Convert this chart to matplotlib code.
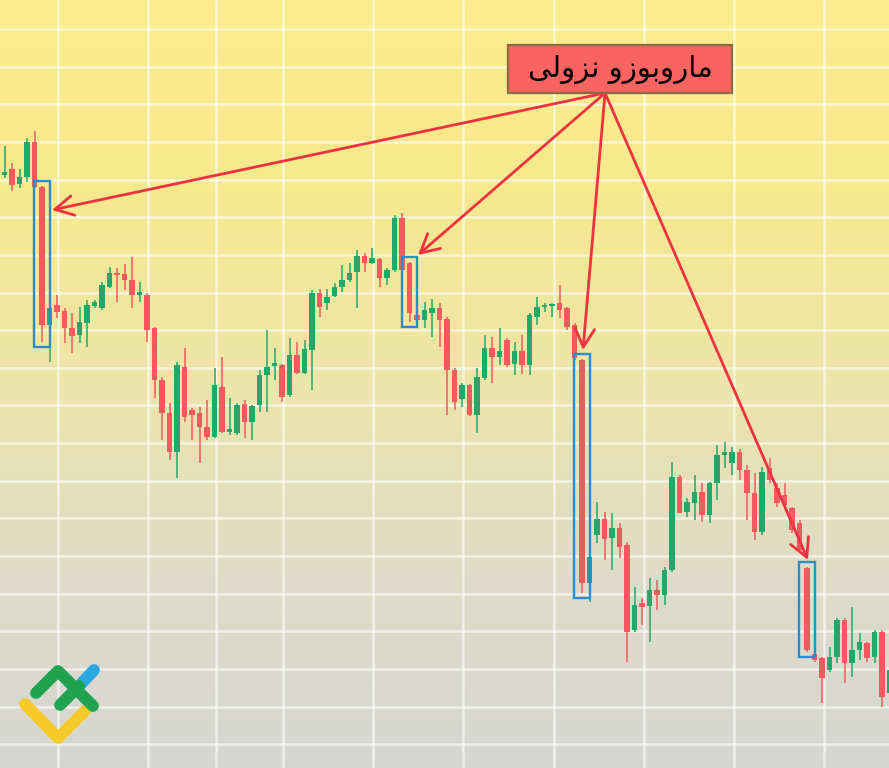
import numpy as np
import matplotlib.pyplot as plt
from matplotlib.patches import Rectangle

# candle OHLC (arbitrary price units, one candle per bar)
opens = [593, 599, 584, 591, 626, 581, 443, 463, 457, 440,
         433, 445, 462, 460, 481, 495, 494, 488, 473, 473,
         440, 388, 355, 316, 401, 358, 355, 341, 331, 381,
         336, 335, 364, 346, 363, 393, 402, 403, 373, 413,
         395, 418, 475, 465, 472, 481, 488, 496, 512, 505,
         509, 490, 498, 550, 505, 453, 448, 455, 460, 449,
         398, 369, 383, 353, 390, 420, 411, 428, 404, 417,
         403, 451, 461, 462, 465, 460, 443, 408, 185, 233,
         249, 230, 240, 223, 138, 165, 162, 178, 173, 198,
         291, 256, 265, 276, 253, 285, 313, 305, 316, 298,
         275, 236, 300, 280, 273, 260, 245, 200, 114, 110,
         98, 111, 148, 105, 118, 125, 111, 136, 75]
highs = [622, 605, 599, 630, 637, 582, 461, 473, 460, 455,
         461, 468, 468, 486, 501, 500, 504, 511, 486, 475,
         441, 391, 365, 406, 420, 360, 361, 368, 400, 411,
         370, 365, 368, 363, 398, 438, 420, 404, 430, 426,
         428, 478, 479, 479, 485, 503, 505, 518, 515, 520,
         510, 500, 553, 555, 506, 455, 466, 469, 465, 451,
         400, 385, 384, 400, 433, 431, 440, 430, 426, 433,
         455, 471, 465, 465, 483, 461, 445, 409, 225, 266,
         256, 255, 245, 226, 181, 170, 190, 188, 201, 306,
         293, 270, 293, 285, 286, 323, 326, 321, 319, 303,
         295, 301, 310, 285, 285, 261, 248, 201, 116, 111,
         121, 150, 150, 161, 135, 126, 138, 138, 100]
lows = [590, 577, 580, 586, 580, 426, 406, 450, 425, 415,
        425, 421, 460, 458, 480, 466, 478, 460, 466, 426,
        370, 328, 308, 290, 346, 328, 305, 328, 330, 335,
        333, 333, 330, 328, 356, 356, 388, 366, 371, 394,
        394, 378, 451, 458, 471, 476, 486, 460, 496, 504,
        481, 483, 496, 491, 446, 446, 440, 431, 421, 353,
        358, 361, 352, 335, 388, 385, 403, 401, 393, 394,
        393, 443, 456, 451, 450, 438, 408, 175, 166, 225,
        208, 198, 210, 106, 136, 143, 126, 158, 163, 196,
        255, 251, 248, 246, 245, 268, 300, 293, 288, 248,
        228, 233, 285, 261, 260, 235, 215, 116, 106, 65,
        96, 105, 85, 91, 108, 106, 105, 61, 70]
closes = [596, 583, 591, 626, 581, 443, 460, 456, 440, 432,
          446, 463, 466, 483, 495, 493, 488, 473, 476, 438,
          388, 355, 316, 403, 351, 353, 341, 331, 383, 336,
          339, 363, 346, 362, 393, 401, 405, 371, 413, 395,
          419, 475, 461, 471, 481, 488, 495, 512, 505, 510,
          490, 498, 550, 498, 455, 448, 458, 460, 448, 398,
          366, 383, 353, 391, 420, 411, 417, 403, 417, 403,
          453, 461, 463, 464, 458, 441, 410, 185, 211, 249,
          229, 240, 221, 136, 163, 161, 178, 173, 198, 291,
          255, 266, 276, 253, 285, 313, 316, 316, 298, 275,
          236, 296, 288, 265, 263, 238, 218, 118, 108, 90,
          111, 148, 105, 118, 126, 110, 136, 71, 98]

# bearish marubozu candles and where the arrows point (candle index, price)
marubozu_idx = [5, 54, 77, 107]
arrow_tips = [(6.33, 558), (55.13, 513), (77.13, 418), (107.13, 208)]
arrow_origin = (80.07, 675)
label = 'ماروبوزو نزولی'

grid_x = [7.1, 19.1, 28.2, 37.1, 49.1, 61.1, 73.3, 85.3, 97.3, 109.3]
grid_y = np.arange(23.7, 740, 37.65)

GREEN = '#22A86B'
RED = '#F25A5F'
BLUE = '#2A8CD0'
ARROW = '#EE3340'


def shape_persian(text):
    '''Tiny contextual shaper so matplotlib draws joined Persian letters.'''
    forms = {  # isolated, final, initial, medial
        'م': ('\uFEE1', '\uFEE2', '\uFEE3', '\uFEE4'),
        'ا': ('\uFE8D', '\uFE8E', None, None),
        'ر': ('\uFEAD', '\uFEAE', None, None),
        'و': ('\uFEED', '\uFEEE', None, None),
        'ز': ('\uFEAF', '\uFEB0', None, None),
        'ب': ('\uFE8F', '\uFE90', '\uFE91', '\uFE92'),
        'ن': ('\uFEE5', '\uFEE6', '\uFEE7', '\uFEE8'),
        'ل': ('\uFEDD', '\uFEDE', '\uFEDF', '\uFEE0'),
        'ی': ('\uFBFC', '\uFBFD', '\uFBFE', '\uFBFF'),
    }
    out = []
    for i, ch in enumerate(text):
        if ch not in forms:
            out.append(ch)
            continue
        prev = text[i - 1] if i > 0 else ''
        nxt = text[i + 1] if i + 1 < len(text) else ''
        join_prev = prev in forms and forms[prev][2] is not None
        join_next = nxt in forms and forms[ch][2] is not None
        iso, fin, ini, med = forms[ch]
        if join_prev and join_next:
            out.append(med)
        elif join_prev:
            out.append(fin)
        elif join_next:
            out.append(ini)
        else:
            out.append(iso)
    return ''.join(reversed(out))


fig = plt.figure(figsize=(8.89, 7.68), dpi=100)
ax = fig.add_axes([0, 0, 1, 1])
x0, x1, y0, y1 = -0.6, 117.93, 0, 768
ax.set_xlim(x0, x1)
ax.set_ylim(y0, y1)

# yellow -> grey background
stops = np.array([[251, 236, 140], [247, 233, 143], [237, 229, 170],
                  [222, 220, 199], [214, 214, 212]]) / 255.
t = np.linspace(0, 1, 256)
pos = np.linspace(0, 1, len(stops))
grad = np.stack([np.interp(t, pos, stops[:, k]) for k in range(3)], -1)
ax.imshow(grad[:, None, :], extent=[x0, x1, y0, y1], aspect='auto',
          origin='upper', zorder=0)

for gx in grid_x:
    ax.axvline(gx, color='white', lw=1.8, alpha=0.6, zorder=1)
for gy in grid_y:
    ax.axhline(gy, color='white', lw=1.8, alpha=0.6, zorder=1)

o, h, l, c = map(np.array, (opens, highs, lows, closes))
idx = np.arange(len(o))
colors = np.where(c >= o, GREEN, RED)
ax.vlines(idx, l, h, colors=colors, lw=1.1, zorder=3)
body = np.maximum(np.abs(c - o), 1.5)
ax.bar(idx, body, bottom=np.minimum(o, c), width=0.7, color=colors,
       linewidth=0, zorder=4)

for i in marubozu_idx:
    ax.add_patch(Rectangle((i - 1.05, l[i] - 5), 2.1, h[i] + 5 - l[i] + 5,
                           fill=False, ec=BLUE, lw=1.7, zorder=5))

for tip in arrow_tips:
    ax.annotate('', xy=tip, xytext=arrow_origin,
                arrowprops=dict(arrowstyle='->,head_length=0.6,head_width=0.32',
                                color=ARROW, lw=2.0, shrinkA=0, shrinkB=0,
                                mutation_scale=22), zorder=6)

ax.add_patch(Rectangle((67.13, 675), 29.87, 48, fc='#F96460', ec='#8A6A40',
                       lw=1.6, zorder=7))
ax.text(82.07, 699, shape_persian(label), ha='center', va='center',
        fontsize=21, family='DejaVu Sans', color='black', zorder=8)

for s in ax.spines.values():
    s.set_visible(False)
ax.set_xticks([])
ax.set_yticks([])

# logo in the lower left corner (pixel coordinates)
lax = fig.add_axes([0, 0, 1, 1], facecolor='none')
lax.set_xlim(0, 889)
lax.set_ylim(768, 0)
lax.axis('off')
kw = dict(lw=8.5, solid_capstyle='round', solid_joinstyle='round')
lax.plot([25, 58, 86], [704, 738, 710], color='#F5C928', **kw)
lax.plot([79, 94], [686, 670], color='#2AA8E2', **kw)
lax.plot([36, 58, 93], [693, 671, 706], color='#1FA34E', **kw)
lax.plot([60, 79], [705, 686], color='#1FA34E', **kw)

fig.savefig('out.png', dpi=100)
